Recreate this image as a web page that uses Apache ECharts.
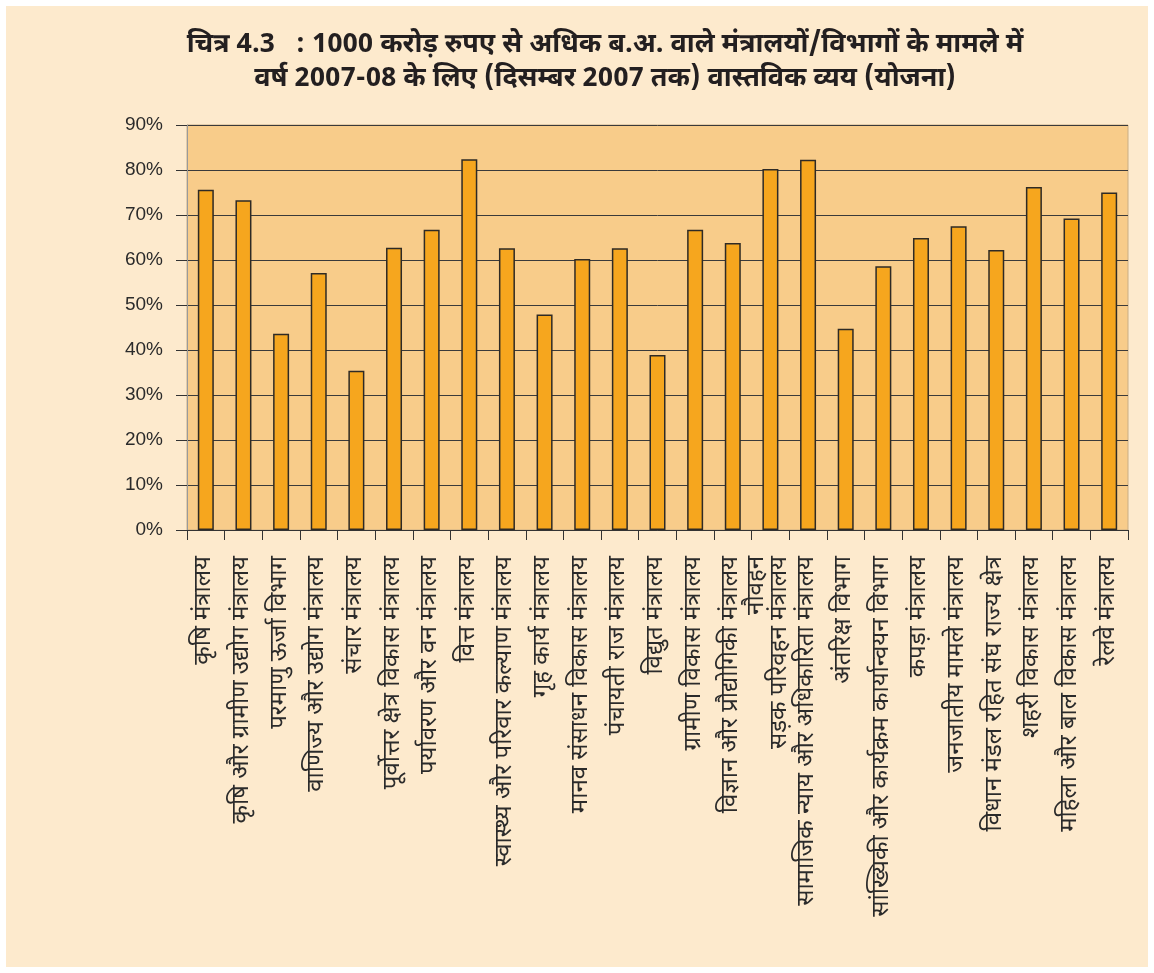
<!DOCTYPE html>
<html>
<head>
<meta charset="utf-8">
<title>वास्तविक व्यय (योजना) 2007-08</title>
<script src="https://cdn.jsdelivr.net/npm/echarts@6/dist/echarts.min.js"></script>
<style>
  html, body { margin: 0; padding: 0; background: #ffffff; }
  #chart { position: absolute; left: 6px; top: 6px; width: 1142px; height: 961px; }
</style>
</head>
<body>
<div id="chart"></div>
<script>
// मंत्रालय / विभाग (category axis, left to right)
var ministries = [
  "कृषि मंत्रालय",
  "कृषि और ग्रामीण उद्योग मंत्रालय",
  "परमाणु ऊर्जा विभाग",
  "वाणिज्य और उद्योग मंत्रालय",
  "संचार मंत्रालय",
  "पूर्वोत्तर क्षेत्र विकास मंत्रालय",
  "पर्यावरण और वन मंत्रालय",
  "वित्त मंत्रालय",
  "स्वास्थ्य और परिवार कल्याण मंत्रालय",
  "गृह कार्य मंत्रालय",
  "मानव संसाधन विकास मंत्रालय",
  "पंचायती राज मंत्रालय",
  "विद्युत मंत्रालय",
  "ग्रामीण विकास मंत्रालय",
  "विज्ञान और प्रौद्योगिकी मंत्रालय",
  "नौवहन\nसड़क परिवहन मंत्रालय",
  "सामाजिक न्याय और अधिकारिता मंत्रालय",
  "अंतरिक्ष विभाग",
  "सांख्यिकी और कार्यक्रम कार्यान्वयन विभाग",
  "कपड़ा मंत्रालय",
  "जनजातीय मामले मंत्रालय",
  "विधान मंडल रहित संघ राज्य क्षेत्र",
  "शहरी विकास मंत्रालय",
  "महिला और बाल विकास मंत्रालय",
  "रेलवे मंत्रालय"
];

// actual expenditure till Dec 2007 as % of BE (plan)
var spentPct = [
  75.6, 73.3, 43.6, 57.1, 35.4, 62.7, 66.7, 82.4, 62.6, 47.9,
  60.2, 62.6, 38.9, 66.7, 63.8, 80.2, 82.3, 44.7, 58.6, 64.9,
  67.5, 62.2, 76.2, 69.2, 75.0
];

var yMin = 0, yMax = 90, yStep = 10;

var titleLines = [
  "चित्र 4.3   : 1000 करोड़ रुपए से अधिक ब.अ. वाले मंत्रालयों/विभागों के मामले में",
  "वर्ष 2007-08 के लिए (दिसम्बर 2007 तक) वास्तविक व्यय (योजना)"
];

var hindiFont = "'Noto Sans Devanagari', 'Noto Sans', 'Lohit Devanagari', 'FreeSans', sans-serif";

// wrapped (two-line) labels get a tighter line height so they fit one slot
var axisData = ministries.map(function (name) {
  if (name.indexOf("\n") !== -1) {
    return { value: name, textStyle: { lineHeight: 23 } };
  }
  return name;
});

var chart = echarts.init(document.getElementById("chart"));
chart.setOption({
  backgroundColor: "#FDEACD",
  animation: false,
  graphic: [
    {
      type: "text", x: 599, y: 41,
      style: {
        text: titleLines[0], align: "center", verticalAlign: "middle",
        font: "bold 27px " + hindiFont, fill: "#231f20"
      }
    },
    {
      type: "text", x: 599, y: 75,
      style: {
        text: titleLines[1], align: "center", verticalAlign: "middle",
        font: "bold 27px " + hindiFont, fill: "#231f20"
      }
    }
  ],
  grid: {
    left: 181, right: 20, top: 119, bottom: 437,
    show: true, backgroundColor: "#F8CC8A",
    borderColor: "#C9AE86", borderWidth: 1
  },
  xAxis: {
    type: "category",
    data: axisData,
    axisLine: { lineStyle: { color: "#333333", width: 1 } },
    axisTick: { show: true, length: 10, lineStyle: { color: "#333333" } },
    axisLabel: {
      interval: 0, rotate: 90, margin: 26,
      fontFamily: hindiFont, fontSize: 24, color: "#2b2b2b"
    }
  },
  yAxis: {
    type: "value",
    min: yMin, max: yMax, interval: yStep,
    axisLine: { show: true, lineStyle: { color: "#9a9a9a", width: 1 } },
    axisTick: { show: true, length: 11, lineStyle: { color: "#333333" } },
    axisLabel: {
      formatter: "{value}%", margin: 24,
      fontFamily: "'Liberation Sans', Arial, sans-serif",
      fontSize: 19, color: "#2b2b2b"
    },
    splitLine: { lineStyle: { color: "#3a3a3a", width: 1 } }
  },
  series: [
    {
      type: "bar",
      data: spentPct,
      barWidth: 16,
      itemStyle: { color: "#F6A61E", borderColor: "#2e2a25", borderWidth: 1.5 }
    }
  ]
});
</script>
</body>
</html>
